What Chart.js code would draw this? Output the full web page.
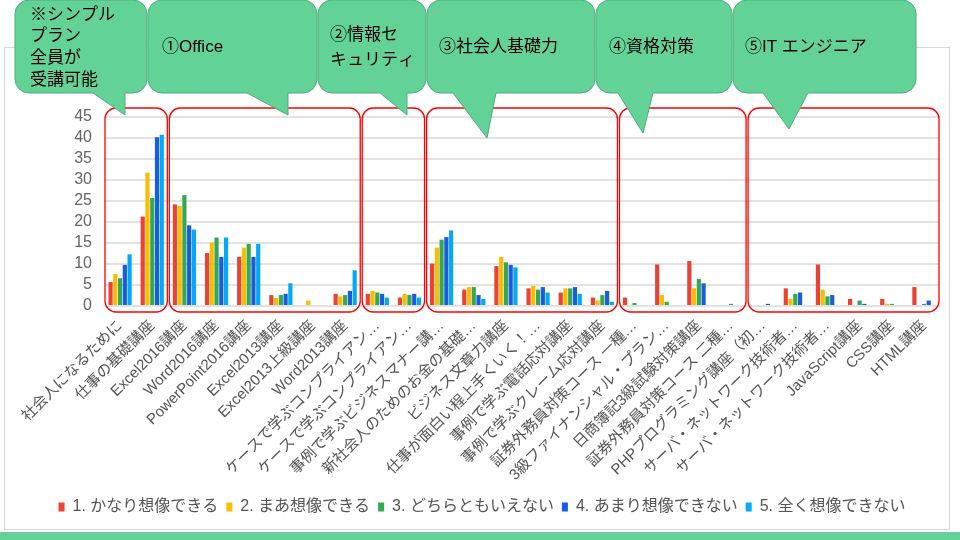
<!DOCTYPE html>
<html lang="ja">
<head>
<meta charset="utf-8">
<title>講座別 想像度</title>
<script src="https://cdn.jsdelivr.net/npm/chart.js@4.4.1/dist/chart.umd.min.js"></script>
<style>
    html, body { margin: 0; padding: 0; background: #fff; }
    .chart-wrapper { position: relative; width: 960px; height: 540px; }
</style>
</head>
<body>
<div class="chart-wrapper"><canvas id="courseChart"></canvas></div>
<script>
/* ==========================================================================
   データ
   ========================================================================== */

const categories = [
    '社会人になるために', '仕事の基礎講座', 'Excel2016講座', 'Word2016講座',
    'PowerPoint2016講座', 'Excel2013講座', 'Excel2013上級講座', 'Word2013講座',
    'ケースで学ぶコンプライアン…', 'ケースで学ぶコンプライアン…', '事例で学ぶビジネスマナー講…',
    '新社会人のためのお金の基礎…', 'ビジネス文章力講座', '仕事が面白い程上手くいく！…',
    '事例で学ぶ電話応対講座', '事例で学ぶクレーム応対講座', '証券外務員対策コース 一種…',
    '3級ファイナンシャル・プラン…', '日商簿記3級試験対策講座', '証券外務員対策コース 二種…',
    'PHPプログラミング講座（初…', 'サーバ・ネットワーク技術者…', 'サーバ・ネットワーク技術者…',
    'JavaScript講座', 'CSS講座', 'HTML講座'
];

const seriesNames = [
    '1. かなり想像できる', '2. まあ想像できる', '3. どちらともいえない',
    '4. あまり想像できない', '5. 全く想像できない'
];

const veryImaginable   = [5.7, 21.3, 24.2, 12.6, 11.7, 2.6, 0, 2.9, 2.9, 2.0, 10.1, 3.9, 9.5, 4.2, 3.2, 2.0, 2.0, 9.9, 10.7, 0, 0, 4.2, 9.9, 1.7, 1.7, 4.5];
const fairlyImaginable = [7.6, 31.7, 23.8, 15.1, 13.9, 1.9, 1.3, 2.3, 3.6, 2.9, 13.9, 4.5, 11.7, 4.8, 4.2, 1.3, 0, 2.6, 4.2, 0, 0, 1.7, 3.9, 0, 0.5, 0];
const neutral          = [6.6, 25.7, 26.4, 16.3, 14.8, 2.6, 0, 2.6, 3.2, 2.6, 15.8, 4.5, 10.4, 3.9, 4.2, 2.6, 0.7, 1.0, 6.4, 0.5, 0, 2.9, 2.3, 1.3, 0.5, 0.5];
const hardlyImaginable = [9.8, 40.2, 19.2, 11.7, 11.7, 2.9, 0, 3.6, 2.9, 2.9, 16.4, 2.6, 9.8, 4.5, 4.5, 3.6, 0, 0, 5.4, 0, 0.5, 3.2, 2.6, 0.5, 0, 1.3];
const notImaginable    = [12.3, 40.8, 18.2, 16.3, 14.8, 5.4, 0, 8.5, 2.0, 2.0, 18.0, 1.7, 9.2, 3.2, 2.9, 1.0, 0, 0, 0, 0, 0, 0, 0, 0, 0, 0];

const seriesColors = ['#EA4335', '#FBBC04', '#34A853', '#1A5CE0', '#03A9F4'];

// グループ（赤枠）: 開始・終了カテゴリ
const groupRanges = [[0, 1], [2, 7], [8, 9], [10, 15], [16, 19], [20, 25]];

// 吹き出し（装飾）
const callouts = [
    { x: 15,  w: 132, tail: [93, 125, 125, 115],  lines: ['※シンプル', 'プラン', '全員が', '受講可能'], tx: 30,  ty: [15, 36, 58, 80] },
    { x: 148, w: 169, tail: [247, 288, 288, 115], lines: ['①Office'], tx: 162, ty: [47] },
    { x: 318, w: 108, tail: [380, 407, 407, 115], lines: ['②情報セ', 'キュリティ'], tx: 330, ty: [35, 60] },
    { x: 427, w: 168, tail: [453, 496, 487, 138], lines: ['③社会人基礎力'], tx: 439, ty: [47] },
    { x: 596, w: 136, tail: [618, 653, 643, 133], lines: ['④資格対策'], tx: 609, ty: [47] },
    { x: 733, w: 183, tail: [763, 808, 789, 129], lines: ['⑤IT エンジニア'], tx: 745, ty: [47] }
];

const FONT = "'Liberation Sans', 'Noto Sans CJK JP', sans-serif";

/* ==========================================================================
   描画プラグイン
   ========================================================================== */

function roundRectPath(ctx, x, y, w, h, r) {
    ctx.beginPath();
    ctx.moveTo(x + r, y);
    ctx.lineTo(x + w - r, y);
    ctx.arcTo(x + w, y, x + w, y + r, r);
    ctx.lineTo(x + w, y + h - r);
    ctx.arcTo(x + w, y + h, x + w - r, y + h, r);
    ctx.lineTo(x + r, y + h);
    ctx.arcTo(x, y + h, x, y + h - r, r);
    ctx.lineTo(x, y + r);
    ctx.arcTo(x, y, x + r, y, r);
    ctx.closePath();
}

const framePlugin = {
    id: 'frame',
    beforeDraw(chart) {
        const ctx = chart.ctx;
        ctx.save();
        ctx.fillStyle = '#fff';
        ctx.fillRect(0, 0, chart.width, chart.height);
        ctx.strokeStyle = '#d9d9d9';
        ctx.lineWidth = 1;
        ctx.strokeRect(4.5, 47.5, 945, 482);
        ctx.fillStyle = '#63D297';
        ctx.fillRect(0, 532, chart.width, 8);
        ctx.restore();
    }
};

const overlayPlugin = {
    id: 'overlay',
    afterDraw(chart) {
        const ctx = chart.ctx;
        const x = chart.scales.x;
        const area = chart.chartArea;
        const step = x.getPixelForValue(1) - x.getPixelForValue(0);

        // 赤枠
        ctx.save();
        ctx.strokeStyle = '#FF0000';
        ctx.lineWidth = 1.3;
        groupRanges.forEach(([a, b]) => {
            const left = x.getPixelForValue(a) - step / 2 + 1;
            const right = x.getPixelForValue(b) + step / 2 - 1;
            roundRectPath(ctx, left, area.top - 9, right - left, area.bottom - area.top + 15, 11);
            ctx.stroke();
        });
        ctx.restore();

        // 吹き出し
        ctx.save();
        callouts.forEach(c => {
            const y = 0, h = 93, r = 14;
            const [t1, t2, tipX, tipY] = c.tail;
            ctx.beginPath();
            ctx.moveTo(c.x + r, y);
            ctx.lineTo(c.x + c.w - r, y);
            ctx.arcTo(c.x + c.w, y, c.x + c.w, y + r, r);
            ctx.lineTo(c.x + c.w, y + h - r);
            ctx.arcTo(c.x + c.w, y + h, c.x + c.w - r, y + h, r);
            ctx.lineTo(t2, y + h);
            ctx.lineTo(tipX, tipY);
            ctx.lineTo(t1, y + h);
            ctx.lineTo(c.x + r, y + h);
            ctx.arcTo(c.x, y + h, c.x, y + h - r, r);
            ctx.lineTo(c.x, y + r);
            ctx.arcTo(c.x, y, c.x + r, y, r);
            ctx.closePath();
            ctx.fillStyle = '#63D297';
            ctx.fill();
            ctx.strokeStyle = '#4FAE7E';
            ctx.lineWidth = 1;
            ctx.stroke();

            ctx.fillStyle = '#000';
            ctx.font = '17px ' + FONT;
            ctx.textBaseline = 'middle';
            ctx.textAlign = 'left';
            c.lines.forEach((line, i) => ctx.fillText(line, c.tx, c.ty[i]));
        });
        ctx.restore();
    }
};

/* ==========================================================================
   グラフ
   ========================================================================== */

const seriesValues = [veryImaginable, fairlyImaginable, neutral, hardlyImaginable, notImaginable];

new Chart(document.getElementById('courseChart').getContext('2d'), {
    type: 'bar',
    data: {
        labels: categories,
        datasets: seriesNames.map((name, i) => ({
            label: name,
            data: seriesValues[i],
            backgroundColor: seriesColors[i],
            borderWidth: 0,
            categoryPercentage: 0.74,
            barPercentage: 0.88
        }))
    },
    options: {
        responsive: true,
        maintainAspectRatio: false,
        animation: false,
        layout: { padding: { top: 117, right: 20, left: 24, bottom: 15 } },
        plugins: {
            tooltip: { enabled: false },
            legend: {
                position: 'bottom',
                labels: {
                    boxWidth: 6,
                    boxHeight: 9,
                    padding: 8,
                    color: '#555',
                    font: { family: FONT, size: 16 }
                }
            }
        },
        scales: {
            y: {
                min: 0,
                max: 45,
                ticks: { stepSize: 5, autoSkip: false, color: '#666', padding: 12, font: { family: FONT, size: 16 } },
                grid: { color: '#e3e3e3', lineWidth: 2, drawTicks: false },
                border: { display: false },
                afterFit(scale) { scale.width = 80; }
            },
            x: {
                ticks: {
                    autoSkip: false,
                    minRotation: 45,
                    maxRotation: 45,
                    color: '#555',
                    font: { family: FONT, size: 15 }
                },
                grid: { display: false },
                border: { display: false },
                afterFit(scale) { scale.height = 185; }
            }
        }
    },
    plugins: [framePlugin, overlayPlugin]
});
</script>
</body>
</html>
